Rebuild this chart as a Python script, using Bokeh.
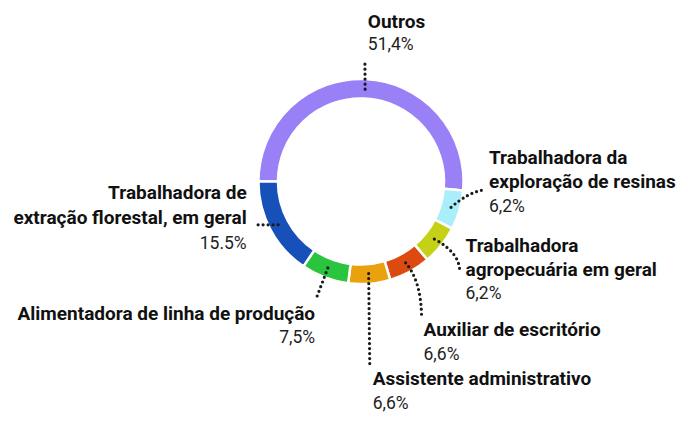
import math
from bokeh.plotting import figure
from bokeh.models import ColumnDataSource, Range1d
from bokeh.core.properties import value
from bokeh.embed import file_html
from bokeh.resources import INLINE

# ---- data ----
categories = [
    "Outros",
    "Trabalhadora da\nexploração de resinas",
    "Trabalhadora\nagropecuária em geral",
    "Auxiliar de escritório",
    "Assistente administrativo",
    "Alimentadora de linha de produção",
    "Trabalhadora de\nextração florestal, em geral",
]
shares = [51.4, 6.2, 6.2, 6.6, 6.6, 7.5, 15.5]
share_labels = ["51,4%", "6,2%", "6,2%", "6,6%", "6,6%", "7,5%", "15.5%"]
colors = ["#9a80f7", "#a9eefa", "#c5d117", "#dc4a12", "#e9a10d", "#2ac53e", "#1650b8"]

# ---- layout: a 694x430 design space drawn into a 678x414 figure ----
W, H = 678, 414
DW, DH = 694, 430
CX, CY = 369, 188
R_IN, R_OUT = 85, 105
R_ANCHOR = 96

# label layout: (x, first line y, align, line height, leader end x, leader end y, ctrl x, ctrl y)
label_layout = [
    (376, 22, "left", 23.5, 373, 62, None, None),
    (500, 163, "left", 25, 493, 197, 478, 200),
    (476, 254, "left", 25, 470, 281, 470, 262),
    (433, 342, "left", 25, 431, 330, 431, 292),
    (381, 393, "left", 25, 378, 380, None, None),
    (322, 325, "right", 25, 323, 310, None, None),
    (252, 199, "right", 26.5, 263, 233, None, None),
]

def fy(py):
    return DH - py

p = figure(width=W, height=H, output_backend="svg", toolbar_location=None,
           x_range=Range1d(0, DW), y_range=Range1d(0, DH), min_border=0)
p.axis.visible = False
p.grid.visible = False
p.outline_line_color = None
p.background_fill_color = "white"
p.border_fill_color = "white"

total = sum(shares)
starts, ends, mids = [], [], []
cum = 0.0
for s in shares:
    a0 = math.pi - 2 * math.pi * cum / total
    cum += s
    a1 = math.pi - 2 * math.pi * cum / total
    starts.append(a0)
    ends.append(a1)
    mids.append((a0 + a1) / 2)

src = ColumnDataSource(dict(x=[CX] * len(shares), y=[fy(CY)] * len(shares),
                            start=starts, end=ends, color=colors))
p.annular_wedge(x="x", y="y", inner_radius=R_IN, outer_radius=R_OUT,
                start_angle="start", end_angle="end", direction="clock",
                fill_color="color", line_color="white", line_width=2.5, source=src)

# leader lines
for i, m in enumerate(mids):
    ax = CX + R_ANCHOR * math.cos(m)
    ay = CY - R_ANCHOR * math.sin(m)
    lx, ly, align, lh, ex, ey, cx, cy = label_layout[i]
    if cx is None:
        p.line([ax, ex], [fy(ay), fy(ey)], line_color="#1a1a1a", line_width=3.2,
               line_dash="0 5", line_cap="round")
    else:
        p.quadratic(x0=ax, y0=fy(ay), x1=ex, y1=fy(ey), cx=cx, cy=fy(cy),
                    line_color="#1a1a1a", line_width=3.2, line_dash="0 5", line_cap="round")

# labels
for i, cat in enumerate(categories):
    lx, ly, align, lh, *_ = label_layout[i]
    lines = cat.split("\n")
    for j, t in enumerate(lines):
        p.text(x=[lx], y=[fy(ly + j * lh)], text=[t], text_align=align,
               text_baseline="middle", text_font=value("Roboto"),
               text_font_style="bold", text_font_size="19px", text_color="#111111")
    p.text(x=[lx], y=[fy(ly + len(lines) * lh)], text=[share_labels[i]],
           text_align=align, text_baseline="middle", text_font=value("Roboto"),
           text_font_size="17.5px", text_color="#1e1e1e")

open("out.html", "w").write(file_html(p, INLINE))
